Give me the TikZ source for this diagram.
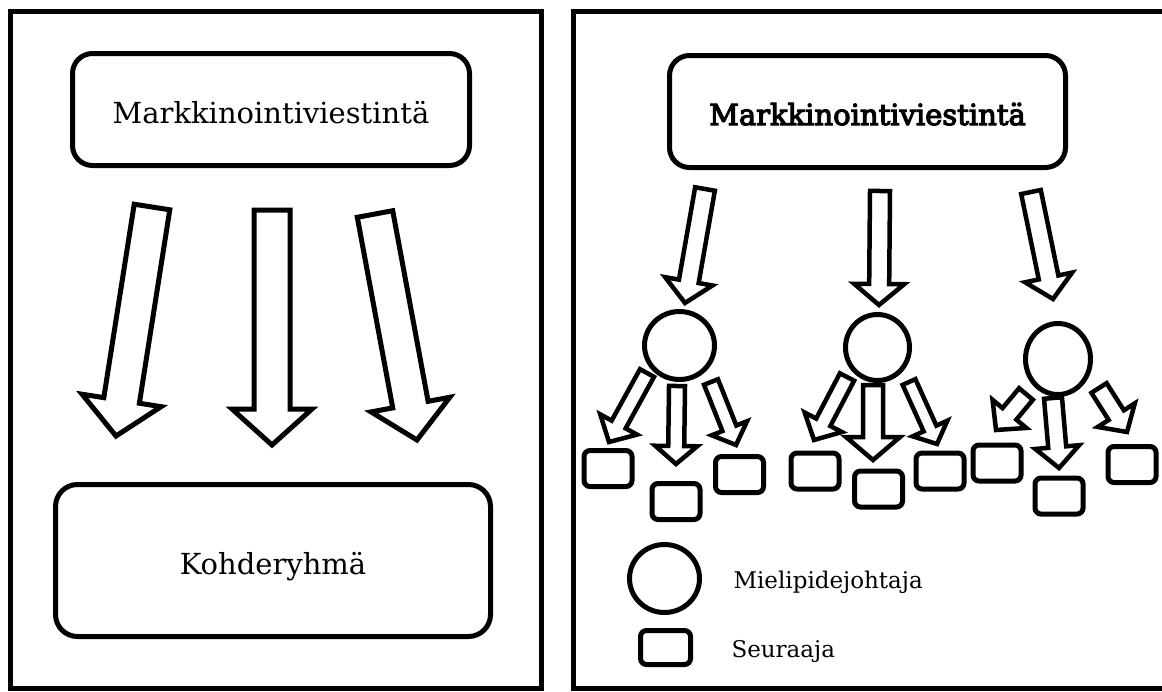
\documentclass[tikz,border=0pt]{standalone}
\usepackage{fontspec}
\setmainfont{DejaVu Serif}
\newfontfamily\heavyfont[FakeBold=4]{DejaVu Serif}
\usetikzlibrary{calc,shapes.geometric}
\newcommand{\barrow}[7]{%
  \coordinate (#2t) at (#3);
  \coordinate (#2h) at (#4);
  \path ($(#2h)!#7!(#2t)$) coordinate (#2s);
  \draw[#1] ($(#2t)!#5!90:(#2h)$) -- ($(#2s)!#5!90:(#2h)$) -- ($(#2s)!#6!90:(#2h)$) -- (#2h)
     -- ($(#2s)!#6!-90:(#2h)$) -- ($(#2s)!#5!-90:(#2h)$) -- ($(#2t)!#5!-90:(#2h)$) -- cycle;}
\begin{document}
\begin{tikzpicture}[x=1pt,y=-1pt,
  panel/.style={draw,line width=5pt},
  bigbox/.style={draw,line width=5pt,rounded corners=20pt,inner sep=0pt,
    text height=27pt,text depth=0pt,font=\fontsize{29pt}{32pt}\selectfont},
  bigarrow/.style={draw,line width=5pt,line join=miter,fill=white},
  smallarrow/.style={draw,line width=4.5pt,line join=miter,fill=white},
  leader/.style={draw,ellipse,line width=5pt,inner sep=0pt},
  follower/.style={draw,rectangle,line width=5pt,rounded corners=6pt,inner sep=0pt,
    minimum width=48pt,minimum height=36pt},
  legendtext/.style={anchor=base west,font=\fontsize{23pt}{26pt}\selectfont}]
\clip (0,0) rectangle (1162,691);
\fill[white] (0,0) rectangle (1162,691);
% panels
\draw[panel] (10,11) rectangle (541.5,688);
\draw[panel] (573,11) rectangle (1180,688);
% left panel
\node[bigbox,minimum width=397pt,minimum height=112pt] (topL) at (271,109.5) {Markkinointiviestintä};
\node[bigbox,rounded corners=22pt,minimum width=435pt,minimum height=152pt] (target) at (273,560.5) {Kohderyhmä};
\barrow{bigarrow}{la1}{152,207}{116,436}{18pt}{40pt}{36pt}
\barrow{bigarrow}{la2}{272,210}{272,445}{18pt}{40pt}{36pt}
\barrow{bigarrow}{la3}{375,214}{417,440}{18pt}{40pt}{36pt}
% right panel
\node[bigbox,minimum width=396pt,minimum height=112pt,font=\fontsize{29pt}{32pt}\heavyfont] (topR) at (867.5,111.5) {Markkinointiviestintä};
\barrow{smallarrow}{ra1}{705,189}{685,303}{10pt}{24pt}{22pt}
\barrow{smallarrow}{ra2}{880,191}{879,305}{10pt}{25pt}{21pt}
\barrow{smallarrow}{ra3}{1031,192}{1053,299}{10pt}{24pt}{22pt}
% opinion leaders
\node[leader,minimum width=70pt,minimum height=68pt] (c1) at (679.5,345.5) {};
\node[leader,minimum width=64pt,minimum height=66pt] (c2) at (877.5,347.5) {};
\node[leader,minimum width=65pt,minimum height=71pt] (c3) at (1058,359) {};
% group 1
\barrow{smallarrow}{g1l}{647,373}{609,442}{8pt}{21pt}{20pt}
\barrow{smallarrow}{g1m}{677,386}{676,464}{8pt}{21pt}{18pt}
\barrow{smallarrow}{g1r}{711,382}{736,445}{7.5pt}{19pt}{18pt}
\node[follower] (f1a) at (608,468.5) {};
\node[follower] (f1b) at (676,501.5) {};
\node[follower] (f1c) at (739.5,474.5) {};
% group 2
\barrow{smallarrow}{g2l}{847,377}{814,440}{8pt}{21pt}{20pt}
\barrow{smallarrow}{g2m}{873,385}{873,460}{10pt}{27pt}{23pt}
\barrow{smallarrow}{g2r}{909,382}{937,444}{7pt}{19pt}{17pt}
\node[follower] (f2a) at (815,471) {};
\node[follower] (f2b) at (878.5,489) {};
\node[follower] (f2c) at (940,471) {};
% group 3
\barrow{smallarrow}{g3l}{1026,394}{996,430}{9pt}{22pt}{21pt}
\barrow{smallarrow}{g3m}{1053,398}{1059,468}{9pt}{22pt}{21pt}
\barrow{smallarrow}{g3r}{1099,388}{1127,432}{9pt}{22pt}{20pt}
\node[follower] (f3a) at (997,463) {};
\node[follower] (f3b) at (1059,496) {};
\node[follower] (f3c) at (1132,464.5) {};
% legend
\node[leader,minimum width=70pt,minimum height=68pt] (legC) at (664.5,578.5) {};
\node[legendtext] (legCtext) at (730,588) {Mielipidejohtaja};
\node[follower,minimum width=50pt,minimum height=34pt] (legS) at (665.5,647.5) {};
\node[legendtext] (legStext) at (728,657) {Seuraaja};
\end{tikzpicture}
\end{document}
